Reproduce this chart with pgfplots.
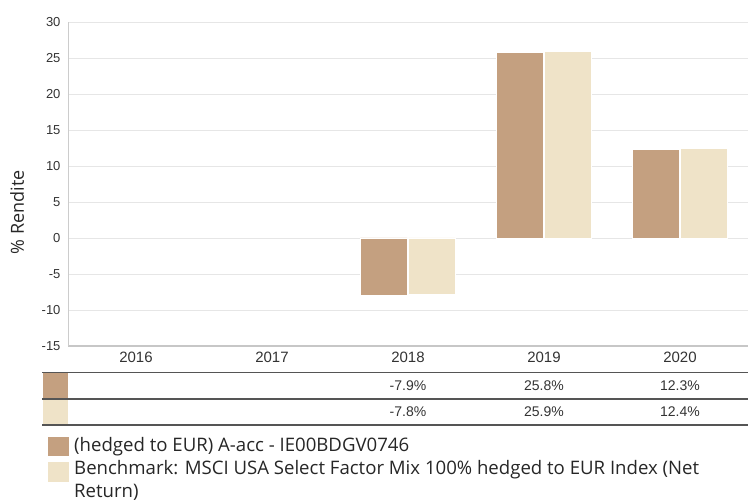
\documentclass[border=0pt]{standalone}
\usepackage{pgfplots}
\pgfplotsset{compat=1.18}
\usepackage{fontspec}
\setmainfont{Liberation Sans}
\newfontfamily\legfont{Open Sans}
\definecolor{fund}{RGB}{196,160,128}
\definecolor{bench}{RGB}{239,227,200}
\definecolor{gridc}{RGB}{230,230,230}
\definecolor{txt}{RGB}{51,51,51}
\definecolor{tline}{RGB}{85,85,85}
\begin{document}
\begin{tikzpicture}[x=1pt,y=1pt]
\path[use as bounding box] (0,0) rectangle (748,503);
\begin{axis}[
  at={(68pt,157pt)}, anchor=south west,
  scale only axis, width=680pt, height=324pt,
  xmin=-0.5, xmax=4.5, ymin=-15, ymax=30,
  ytick={-15,-10,...,30},
  xtick={0,...,4}, xticklabels={2016,2017,2018,2019,2020},
  major tick length=0pt,
  axis lines*=left,
  x axis line style={draw=black!22, line width=1.6pt},
  y axis line style={draw=black!20, line width=0.8pt},
  ymajorgrids, grid style={draw=gridc, line width=0.8pt},
  ybar=1pt, bar width=47pt,
  clip=false,
  /pgf/number format/assume math mode=true,
  yticklabel style={font=\fontsize{13}{15}\selectfont, text=txt, xshift=-4pt},
  xticklabel style={font=\fontsize{15}{17}\selectfont, text=txt, yshift=-2pt},
  ylabel={\% Rendite},
  every axis y label/.style={at={(axis description cs:-0.075,0.272)}, rotate=90, anchor=west, font=\legfont\fontsize{18}{21}\selectfont, text=black!85},
]
\addplot[fill=fund, draw=white, line width=0.5pt] coordinates {(2,-7.9) (3,25.8) (4,12.3)};
\addplot[fill=bench, draw=white, line width=0.5pt] coordinates {(2,-7.8) (3,25.9) (4,12.4)};
\begin{scope}[font=\fontsize{14}{16}\selectfont, text=txt]
\node at (axis cs:2,-15) [yshift=-39.5pt] {-7.9\%};
\node at (axis cs:3,-15) [yshift=-39.5pt] {25.8\%};
\node at (axis cs:4,-15) [yshift=-39.5pt] {12.3\%};
\node at (axis cs:2,-15) [yshift=-66pt] {-7.8\%};
\node at (axis cs:3,-15) [yshift=-66pt] {25.9\%};
\node at (axis cs:4,-15) [yshift=-66pt] {12.4\%};
\end{scope}
\end{axis}
% table rows
\fill[fund] (42.7,104.5) rectangle (68,129.5);
\fill[bench] (42.7,78.5) rectangle (68,103.5);
\draw[tline, line width=1.4pt] (42,130.3) -- (748,130.3);
\draw[tline, line width=1.4pt] (42,104) -- (748,104);
\draw[tline, line width=1.4pt] (42,78) -- (748,78);
% legend
\fill[fund] (48,47) rectangle (69,66);
\fill[bench] (48,21) rectangle (69,41);
\begin{scope}[font=\legfont\fontsize{18.6}{21}\selectfont, text=black!85]
\node[anchor=base west, inner sep=0pt] at (74,51) {(hedged to EUR) A-acc - IE00BDGV0746};
\node[anchor=base west, inner sep=0pt] at (74,28) {Benchmark: MSCI USA Select Factor Mix 100\% hedged to EUR Index (Net};
\node[anchor=base west, inner sep=0pt] at (74,5) {Return)};
\end{scope}
\end{tikzpicture}
\end{document}
